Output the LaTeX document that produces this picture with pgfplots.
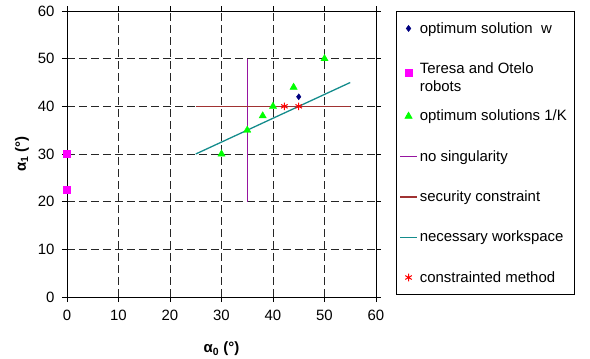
\documentclass[border=0pt]{standalone}
\usepackage{pgfplots}
\pgfplotsset{compat=1.18}
\usepackage{fontspec}
\setmainfont{Liberation Sans}
\definecolor{navyc}{RGB}{0,0,128}
\definecolor{magc}{RGB}{255,0,255}
\definecolor{grnc}{RGB}{0,255,0}
\definecolor{purc}{RGB}{150,20,160}
\definecolor{secc}{RGB}{160,50,50}
\definecolor{tealc}{RGB}{20,140,140}
\begin{document}
\begin{tikzpicture}
\useasboundingbox (-67bp,-62bp) rectangle (523bp,297bp);
\begin{axis}[
  at={(0,0)}, anchor=south west,
  scale only axis, width=309bp, height=286bp,
  xmin=0, xmax=60, ymin=0, ymax=60,
  xtick={0,10,...,60}, ytick={0,10,...,60},
  grid=major,
  major grid style={black!85, dash pattern=on 8bp off 4bp, line width=0.6pt},
  axis line style={black, line width=0.8pt},
  tick align=outside, tick style={black, line width=0.8pt},
  major tick length=5bp,
  /pgf/number format/assume math mode=true,
  tick label style={font=\fontsize{15}{18}\selectfont},
  xticklabel style={yshift=-5bp},
  yticklabel style={xshift=-4bp},
  xlabel={\textbf{α\textsubscript{0} (°)}},
  ylabel={\textbf{α\textsubscript{1} (°)}},
  label style={font=\fontsize{15}{18}\selectfont},
  xlabel style={yshift=-14bp},
  ylabel style={yshift=2bp},
  clip=false,
  legend cell align=left,
  legend style={at={(1,1)}, anchor=north west, xshift=20bp,
    draw=black, line width=0.6pt, font=\fontsize{15}{18}\selectfont,
    row sep=24bp, inner ysep=9bp, inner xsep=3bp,
    /tikz/every even column/.append style={column sep=2bp}},
]
\addplot[only marks, mark=diamond*, mark size=3bp, color=navyc] coordinates {(45,42)};
\addlegendentry{\makebox[150bp][l]{optimum solution\ \ w}}
\addplot[only marks, mark=square*, mark size=3.5bp, color=magc] coordinates {(0,30) (0,22.5)};
\addlegendentry{\parbox[c]{150bp}{Teresa and Otelo\\robots}}
\addplot[only marks, mark=triangle*, mark size=4.2bp, color=grnc] coordinates {(30,30) (35,35) (38,38) (40,40) (44,44) (50,50)};
\addlegendentry{optimum solutions 1/K}
\addplot[color=purc, draw=purc, line width=1.5pt, no marks] coordinates {(35,20) (35,50)};
\addlegendentry{no singularity}
\addplot[color=secc, draw=secc, line width=1.5pt, no marks] coordinates {(25,40) (55,40)};
\addlegendentry{security constraint}
\addplot[color=tealc, draw=tealc, line width=1.3pt, no marks] coordinates {(25,30) (55,45)};
\addlegendentry{necessary workspace}
\addplot[only marks, mark=asterisk, mark size=3.8bp, color=red, mark options={line width=1pt}] coordinates {(42.2,40) (45,40)};
\addlegendentry{constrainted method}
\end{axis}
\end{tikzpicture}
\end{document}
